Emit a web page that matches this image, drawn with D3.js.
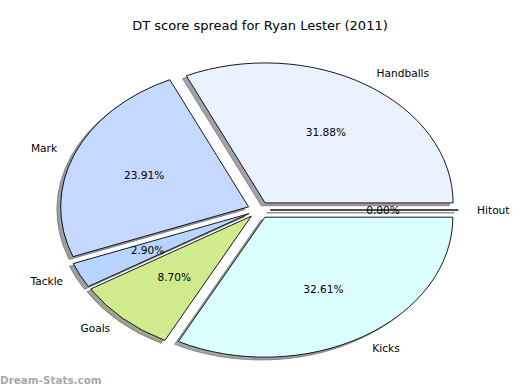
<!DOCTYPE html>
<html>
<head>
<meta charset="utf-8">
<script src="https://cdn.jsdelivr.net/npm/d3@7"></script>
<style>
  body { margin: 0; background: #fff; }
  text { font-family: "DejaVu Sans", sans-serif; }
</style>
</head>
<body>
<script>
width = 520
height = 390

// DT points by category
var categories = ["Handballs", "Mark", "Tackle", "Goals", "Kicks", "Hitout"];
var points = [44, 33, 4, 12, 45, 0];
var colors = ["#eaf1ff", "#c5d8ff", "#b8d5ff", "#d0eb8b", "#dbffff", "#f0f0f0"];

var data = categories.map((c, i) => ({name: c, value: points[i], color: colors[i]}));
var total = d3.sum(points);

// ellipse geometry (matplotlib pie on a non-square axes)
var cx = 259, cy = 210, rx = 188, ry = 140;
var explode = 0.06;

// start at 3 o'clock, go counter-clockwise
var pie = d3.pie()
    .sort(null)
    .value(d => d.value)
    .startAngle(Math.PI / 2)
    .endAngle(Math.PI / 2 - 2 * Math.PI);

var arc = d3.arc().innerRadius(0).outerRadius(1);

var arcs = pie(data);
arcs.forEach(a => {
  var m = (a.startAngle + a.endAngle) / 2;
  a.ux = Math.sin(m);
  a.uy = -Math.cos(m);
  a.ox = cx + explode * rx * a.ux;
  a.oy = cy + explode * ry * a.uy;
});

const svg = d3.select("body").append("svg")
    .attr("width", width)
    .attr("height", height);

svg.append("text")
    .attr("x", 260)
    .attr("y", 30)
    .attr("text-anchor", "middle")
    .style("font-size", "13px")
    .text("DT score spread for Ryan Lester (2011)");

// shadows first
svg.append("g")
  .selectAll("path")
  .data(arcs).enter()
  .append("path")
    .attr("d", arc)
    .attr("transform", d => `translate(${d.ox - 3.8},${d.oy + 2.8}) scale(${rx},${ry})`)
    .attr("vector-effect", "non-scaling-stroke")
    .attr("fill", d => { var c = d3.rgb(d.data.color); return d3.rgb(c.r * 0.3, c.g * 0.3, c.b * 0.3); })
    .attr("fill-opacity", 0.5)
    .attr("stroke", d => { var c = d3.rgb(d.data.color); return d3.rgb(c.r * 0.3, c.g * 0.3, c.b * 0.3); })
    .attr("stroke-opacity", 0.5)
    .attr("stroke-width", 1);

svg.append("g")
  .selectAll("path")
  .data(arcs).enter()
  .append("path")
    .attr("d", arc)
    .attr("transform", d => `translate(${d.ox},${d.oy}) scale(${rx},${ry})`)
    .attr("vector-effect", "non-scaling-stroke")
    .attr("fill", d => d.data.color)
    .attr("stroke", "#000")
    .attr("stroke-width", 0.9);

// category labels at 1.1 radius
svg.append("g")
  .selectAll("text")
  .data(arcs).enter()
  .append("text")
    .attr("x", d => d.ox + 1.1 * rx * d.ux)
    .attr("y", d => d.oy + 1.1 * ry * d.uy)
    .attr("dy", "0.35em")
    .attr("text-anchor", d => d.ux > 0 ? "start" : "end")
    .style("font-size", "10.6px")
    .text(d => d.data.name);

// percentages at 0.6 radius
svg.append("g")
  .selectAll("text")
  .data(arcs).enter()
  .append("text")
    .attr("x", d => d.ox + 0.6 * rx * d.ux)
    .attr("y", d => d.oy + 0.6 * ry * d.uy)
    .attr("dy", "0.35em")
    .attr("text-anchor", "middle")
    .style("font-size", "10.6px")
    .text(d => (d.data.value / total * 100).toFixed(2) + "%");

svg.append("text")
    .attr("x", 0)
    .attr("y", 384)
    .attr("fill", "#a8a8a8")
    .style("font-size", "10.4px")
    .style("font-weight", "bold")
    .text("Dream-Stats.com");
</script>
</body>
</html>
